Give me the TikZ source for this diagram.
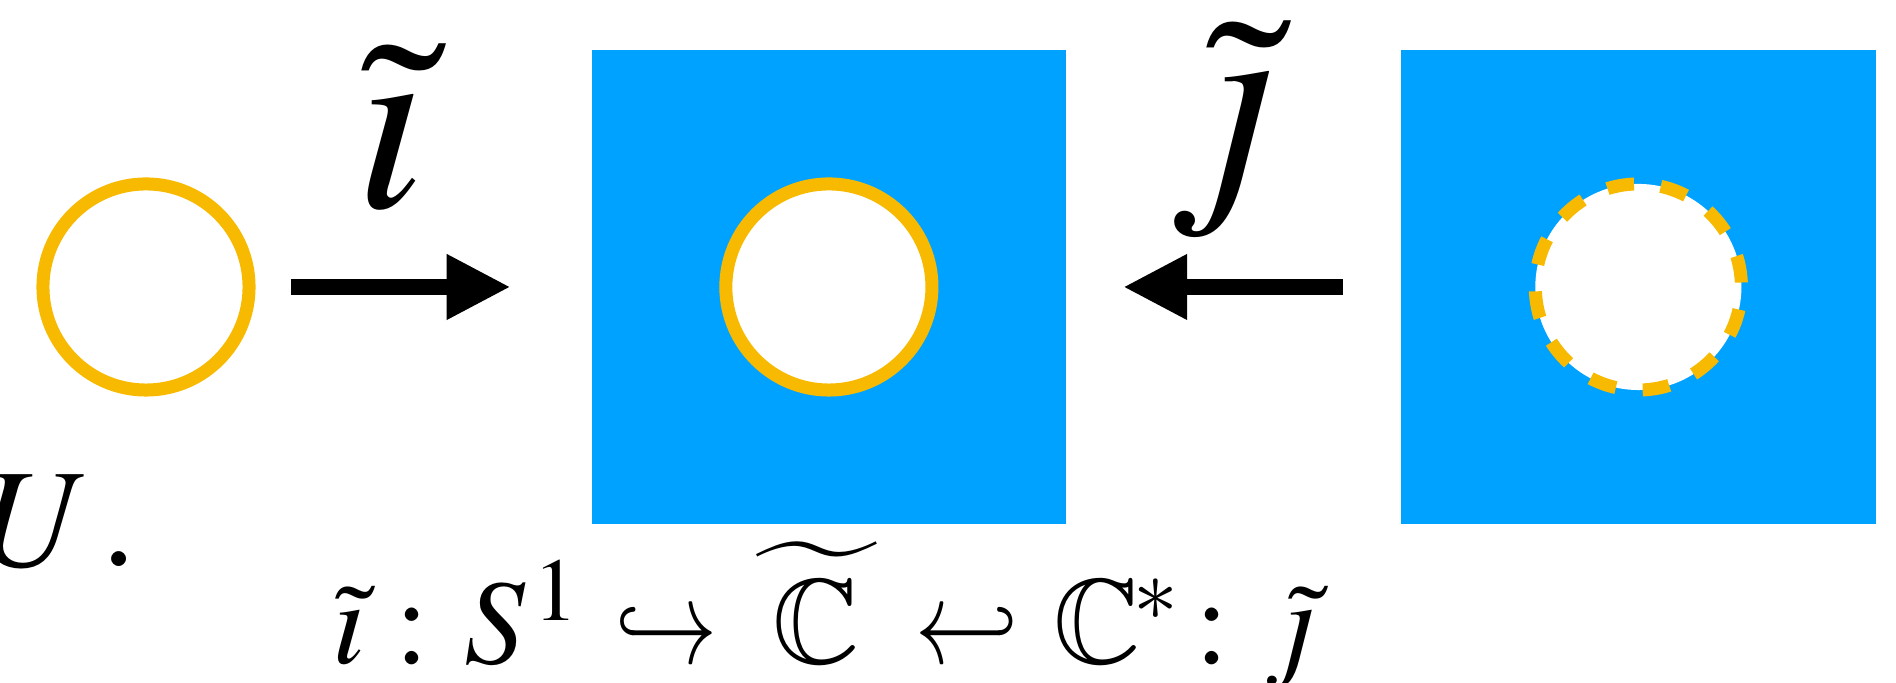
\documentclass[tikz,border=0pt]{standalone}
\usepackage{mathptmx}
\usepackage{tikz}
\usetikzlibrary{arrows.meta, positioning}

\DeclareMathAlphabet{\mathmsb}{U}{msb}{m}{n}
\newcommand{\hookr}{\mathrel{\scalebox{0.76}[1]{$\hookrightarrow$}}}
\newcommand{\hookl}{\mathrel{\scalebox{0.76}[1]{$\hookleftarrow$}}}
\definecolor{skyblue}{HTML}{00A2FF}
\definecolor{ringgold}{HTML}{F7BA00}

\tikzset{
  patch/.style={rectangle, fill=skyblue, minimum size=4.74cm, inner sep=0, outer sep=0},
  ring/.style={circle, draw=ringgold, fill=white, line width=1.3mm, minimum size=2.06cm, inner sep=0},
  hole/.style={ring, dash pattern=on 7.67pt off 7.67pt, dash phase=14.07pt},
  map/.style={-{Triangle[length=6.4mm, width=6.1mm]}, line width=1.6mm},
  lab/.style={inner sep=0, anchor=base, font=\fontsize{73}{80}\selectfont},
  formula/.style={inner sep=0, font=\fontsize{34.4}{40}\selectfont}
}

\begin{document}
\begin{tikzpicture}[x=0.01cm, y=0.01cm]
  \useasboundingbox (0,0) rectangle (1896,683);

  \node (uring) [ring] at (146,396) {};
  \node (midsq) [patch, right=3.36cm of uring] {};
  \node (midring) [ring] at (midsq) {};
  \node (farsq) [patch, right=3.35cm of midsq] {};
  \node (farring) [hole] at (farsq) {};

  \draw[map, shorten <=3.5mm, shorten >=8.1mm] (uring) -- (midsq);
  \draw[map, shorten <=5.8mm, shorten >=5.7mm] (farsq) -- (midsq);

  \node (ilab) [lab] at (391,475) {$\tilde{\imath}$};
  % dotless j: j without its dot, tilde taken from the i
  \begin{scope}
    \clip (1100,300) rectangle (1400,621);
    \node (jlab) [lab, anchor=base west] at (1167,498) {$j$};
  \end{scope}
  \begin{scope}
    \clip (1100,621) rectangle (1400,683);
    \node (jtil) [lab, anchor=base west] at (1200,498) {$\tilde{\imath}$};
  \end{scope}

  \node (ulab) [anchor=base east, inner sep=0, font=\fontsize{40}{48}\selectfont] at (139,116) {$U\mkern1mu.$};

  \node (maps) [formula, anchor=base] at (826,19)
    {\thickmuskip=5.3mu $\tilde{\imath} \mathrel{\mkern-1mu :} S^{\mkern1.5mu 1} \hookr \widetilde{\hbox to 1.05em{\hss$\mathmsb{C}$\hss}} \hookl \mathmsb{C}^{\mkern-1.5mu *} \mathrel{\mkern-3mu :} \phantom{j}$};
  \begin{scope}
    \clip (1150,-100) rectangle (1400,77);
    \node (jlow) [formula, anchor=base east] at (maps.base east) {$j$};
  \end{scope}
  \begin{scope}
    \clip (1150,77) rectangle (1400,200);
    \node (jlowtil) [formula, anchor=base east] at (maps.base east) {$\tilde{\imath}$};
  \end{scope}
\end{tikzpicture}
\end{document}
